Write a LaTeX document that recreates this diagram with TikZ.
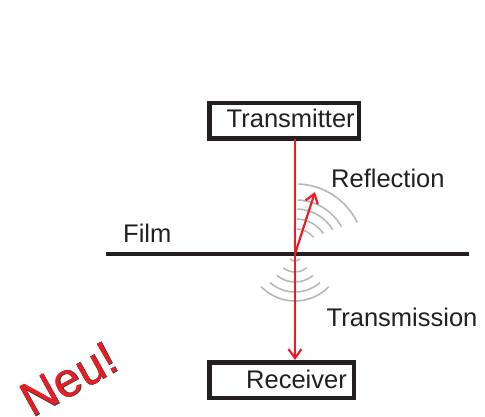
\documentclass[tikz,border=0pt]{standalone}
\usepackage{fontspec}
\setmainfont{Liberation Sans}
\newfontfamily\neufont{Liberation Sans}
\newfontfamily\neuoutline[FakeBold=1.6]{Liberation Sans}
\usetikzlibrary{arrows.meta}
\definecolor{ink}{HTML}{231F20}
\definecolor{ray}{HTML}{ED1C24}
\definecolor{wave}{HTML}{B5B7B9}
\begin{document}
\begin{tikzpicture}[x=1pt,y=-1pt,
  lbl/.style={font=\fontsize{25.5}{30}\selectfont, text=ink, inner sep=0pt, anchor=base west},
  device/.style={draw=ink, line width=4.5pt, inner sep=0pt, outer sep=0pt},
  beam/.style={draw=ray, line width=2.2pt, -{Straight Barb[length=9pt,width=13pt]}},
  wavefront/.style={draw=wave, line width=1.6pt},
  filmline/.style={draw=ink, line width=4.5pt},
]
\useasboundingbox (0,0) rectangle (485,417);

% key points
\coordinate (hit) at (295,254);
\coordinate (echo) at (315,192);
\coordinate (filmL) at (106,254);
\coordinate (filmR) at (469,254);

% reflected wave fronts
\foreach \r/\e in {68/26, 52/29, 43/31, 33/34, 23/40}
  \draw[wavefront] (296,252) ++(-88:\r) arc[start angle=-88, end angle=-\e, radius=\r];

% transmitted wave fronts
\foreach \r/\s in {7/45, 18/40, 28/40, 38/41, 47/46}
  \draw[wavefront] (hit) ++(90+\s:\r) arc[start angle=90+\s, end angle=90-\s, radius=\r];

% film
\draw[filmline] (filmL) -- (filmR);

% devices
\node[device, minimum width=149.5pt, minimum height=35.5pt] (tx) at (284,121) {};
\node[device, minimum width=144.5pt, minimum height=35.5pt] (rx) at (281.5,380) {};

% beams
\draw[beam, shorten >=2.3pt] (tx.south -| hit) -- (rx.north -| hit);
\draw[beam] (hit) -- (echo);

% labels
\node[lbl] (txlabel) at (226.5,128) {Transmitter};
\node[lbl] (rxlabel) at (246,388) {Receiver};
\node[lbl] (refl) at (331,188) {Reflection};
\node[lbl] (trans) at (326.5,326) {Transmission};
\node[lbl] (film) at (123,243) {Film};

% stamp
\node[font=\neuoutline\fontsize{48}{56}\selectfont, text=ink!85, rotate=29, inner sep=0pt] (neuedge) at (69,379) {Neu!};
\node[font=\neufont\fontsize{48}{56}\selectfont, text=ray, rotate=29, inner sep=0pt] (neu) at (69,379) {Neu!};
\end{tikzpicture}
\end{document}
